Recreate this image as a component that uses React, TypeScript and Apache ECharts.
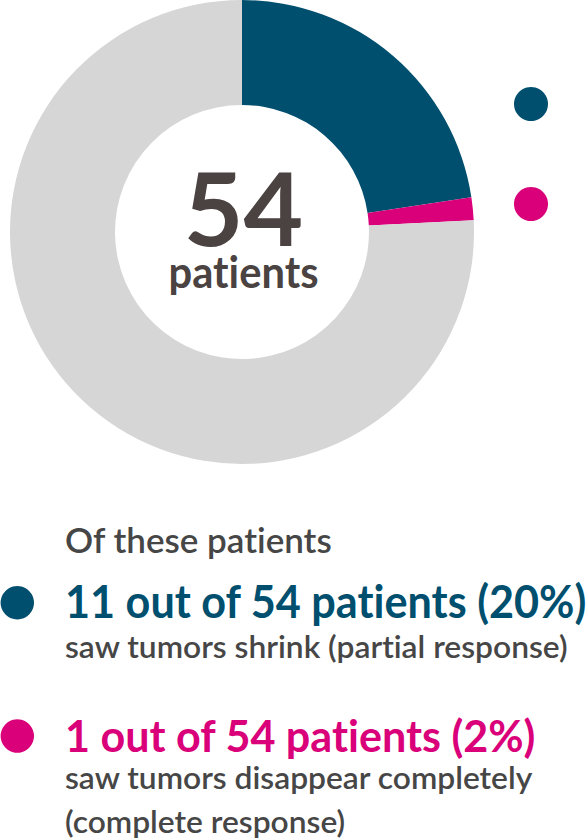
import { useEffect, useRef } from "react";
import * as echarts from "echarts";

const SLICE_NAMES = ["Partial response", "Complete response", "Other patients"];
const SLICE_VALUES = [22.6, 1.6, 75.8];
const SLICE_COLORS = ["#004f6e", "#d9007a", "#d6d6d6"];

const TOTAL_PATIENTS = "54";
const CENTER_LABEL = "patients";

const HEADING = "Of these patients";
const RESPONSE_TITLES = ["11 out of 54 patients (20%)", "1 out of 54 patients (2%)"];
const RESPONSE_NOTES = [
  ["saw tumors shrink (partial response)"],
  ["saw tumors disappear completely", "(complete response)"],
];

const FONT = "Lato, 'Noto Sans', sans-serif";
const INK = "#464646";
const CENTER_INK = "#4a4341";
// offset from alphabetic baseline to the "middle" anchor zrender uses
const MID = 0.35;

function txt(
  text: string,
  x: number,
  baseline: number,
  size: number,
  weight: number | string,
  fill: string,
  sx: number,
  align: "left" | "center" = "left"
) {
  return {
    type: "text",
    x,
    y: baseline - MID * size,
    scaleX: sx,
    silent: true,
    style: {
      text,
      fontSize: size,
      fontWeight: weight,
      fontFamily: FONT,
      fill,
      align,
      verticalAlign: "middle",
    },
  };
}

export default function App() {
  const ref = useRef<HTMLDivElement>(null);

  useEffect(() => {
    if (!ref.current) return;
    const chart = echarts.init(ref.current, undefined, { renderer: "svg" });

    const titleBase = [616, 750];
    const titleScale = [0.96, 0.98];
    const noteBase = [[656.7], [788.3, 831.7]];
    const dotY = [602.7, 736];

    const graphic: any[] = [
      txt(TOTAL_PATIENTS, 243.5, 242.7, 102, "bold", CENTER_INK, 1.01, "center"),
      txt(CENTER_LABEL, 243.5, 286.7, 43, "bold", CENTER_INK, 0.97, "center"),
      txt(HEADING, 65, 551.7, 34, 600, INK, 1.03),
    ];
    RESPONSE_TITLES.forEach((t, i) => {
      graphic.push({
        type: "circle",
        silent: true,
        shape: { cx: 17.3, cy: dotY[i], r: 16.7 },
        style: { fill: SLICE_COLORS[i] },
      });
      graphic.push(txt(t, 65, titleBase[i], i === 0 ? 45 : 44, "bold", SLICE_COLORS[i], titleScale[i]));
      RESPONSE_NOTES[i].forEach((n, j) => {
        graphic.push(txt(n, 65, noteBase[i][j], 31, 600, INK, 1.025));
      });
    });

    chart.setOption({
      animation: false,
      legend: {
        data: SLICE_NAMES.slice(0, 2),
        orient: "vertical",
        left: 514,
        top: 87,
        padding: 0,
        icon: "circle",
        itemWidth: 34,
        itemHeight: 34,
        itemGap: 66,
        selectedMode: false,
        formatter: () => "",
        textStyle: { fontSize: 1 },
      },
      series: [
        {
          type: "pie",
          center: [242, 232],
          radius: [127, 232],
          startAngle: 90,
          clockwise: true,
          silent: true,
          label: { show: false },
          labelLine: { show: false },
          emphasis: { disabled: true },
          itemStyle: { borderWidth: 0 },
          data: SLICE_NAMES.map((name, i) => ({
            name,
            value: SLICE_VALUES[i],
            itemStyle: { color: SLICE_COLORS[i] },
          })),
        },
      ],
      graphic,
    });

    return () => chart.dispose();
  }, []);

  return (
    <>
      <style>{`svg text { font-variant-ligatures: none !important; font-feature-settings: "liga" 0, "clig" 0 !important; }`}</style>
      <div
        ref={ref}
        style={{ position: "absolute", left: 0, top: 0, width: "588px", height: "840px", background: "#fff" }}
      />
    </>
  );
}
